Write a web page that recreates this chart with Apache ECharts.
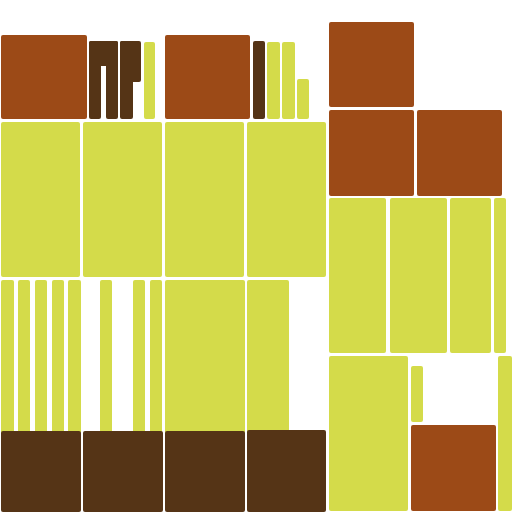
<!DOCTYPE html>
<html><head><meta charset="utf-8">
<script src="https://cdn.jsdelivr.net/npm/echarts@6/dist/echarts.min.js"></script>
<style>html,body{margin:0;padding:0;background:#fff}#c{width:512px;height:512px}</style>
</head><body><div id="c"></div>
<script>
// Tile layout in data units (0..512 both axes, y downward)
var tileX0 = [1, 89, 89, 106, 120, 120, 144, 165, 253, 267, 282, 297,
              329, 329, 417,
              1, 83, 165, 247,
              329, 390, 450, 494,
              1, 18, 35, 52, 68, 100, 133, 150, 165, 247,
              1, 83, 165, 247,
              329, 411, 411, 498];
var tileY0 = [35, 41, 41, 41, 41, 41, 42, 35, 41, 42, 42, 79,
              22, 110, 110,
              122, 122, 122, 122,
              198, 198, 198, 198,
              280, 280, 280, 280, 280, 280, 280, 280, 280, 280,
              431, 431, 431, 430,
              356, 366, 425, 356];
var tileX1 = [87, 118, 101, 118, 141, 133, 155, 250, 265, 280, 295, 309,
              414, 414, 502,
              80, 162, 244, 326,
              386, 447, 491, 506,
              14, 30, 47, 64, 81, 112, 145, 162, 245, 289,
              81, 163, 245, 326,
              408, 423, 496, 512];
var tileY1 = [119, 66, 119, 119, 82, 119, 119, 119, 119, 119, 119, 119,
              107, 196, 196,
              277, 277, 277, 277,
              353, 353, 353, 353,
              434, 434, 434, 434, 434, 434, 434, 434, 434, 434,
              512, 512, 512, 512,
              511, 422, 511, 511];
// 0 = brown, 1 = dark brown, 2 = yellow-green
var tileCat = [0, 1, 1, 1, 1, 1, 2, 0, 1, 2, 2, 2,
               0, 0, 0,
               2, 2, 2, 2,
               2, 2, 2, 2,
               2, 2, 2, 2, 2, 2, 2, 2, 2, 2,
               1, 1, 1, 1,
               2, 2, 0, 2];
var palette = ['#9C4A17', '#553416', '#D4DB4A'];

var data = tileX0.map(function (x0, i) {
  return [x0, tileY0[i], tileX1[i], tileY1[i], tileCat[i]];
});
var chart = echarts.init(document.getElementById('c'), null, {renderer: 'canvas'});
chart.setOption({
  animation: false,
  grid: {left: 0, right: 0, top: 0, bottom: 0},
  xAxis: {type: 'value', min: 0, max: 512, show: false},
  yAxis: {type: 'value', min: 0, max: 512, inverse: true, show: false},
  series: [{
    type: 'custom',
    data: data,
    encode: {x: [0, 2], y: [1, 3]},
    renderItem: function (params, api) {
      var p0 = api.coord([api.value(0), api.value(1)]);
      var p1 = api.coord([api.value(2), api.value(3)]);
      return {
        type: 'rect',
        shape: {x: p0[0], y: p0[1], width: p1[0] - p0[0], height: p1[1] - p0[1], r: 2},
        style: {fill: palette[api.value(4)]}
      };
    }
  }]
});
</script></body></html>
